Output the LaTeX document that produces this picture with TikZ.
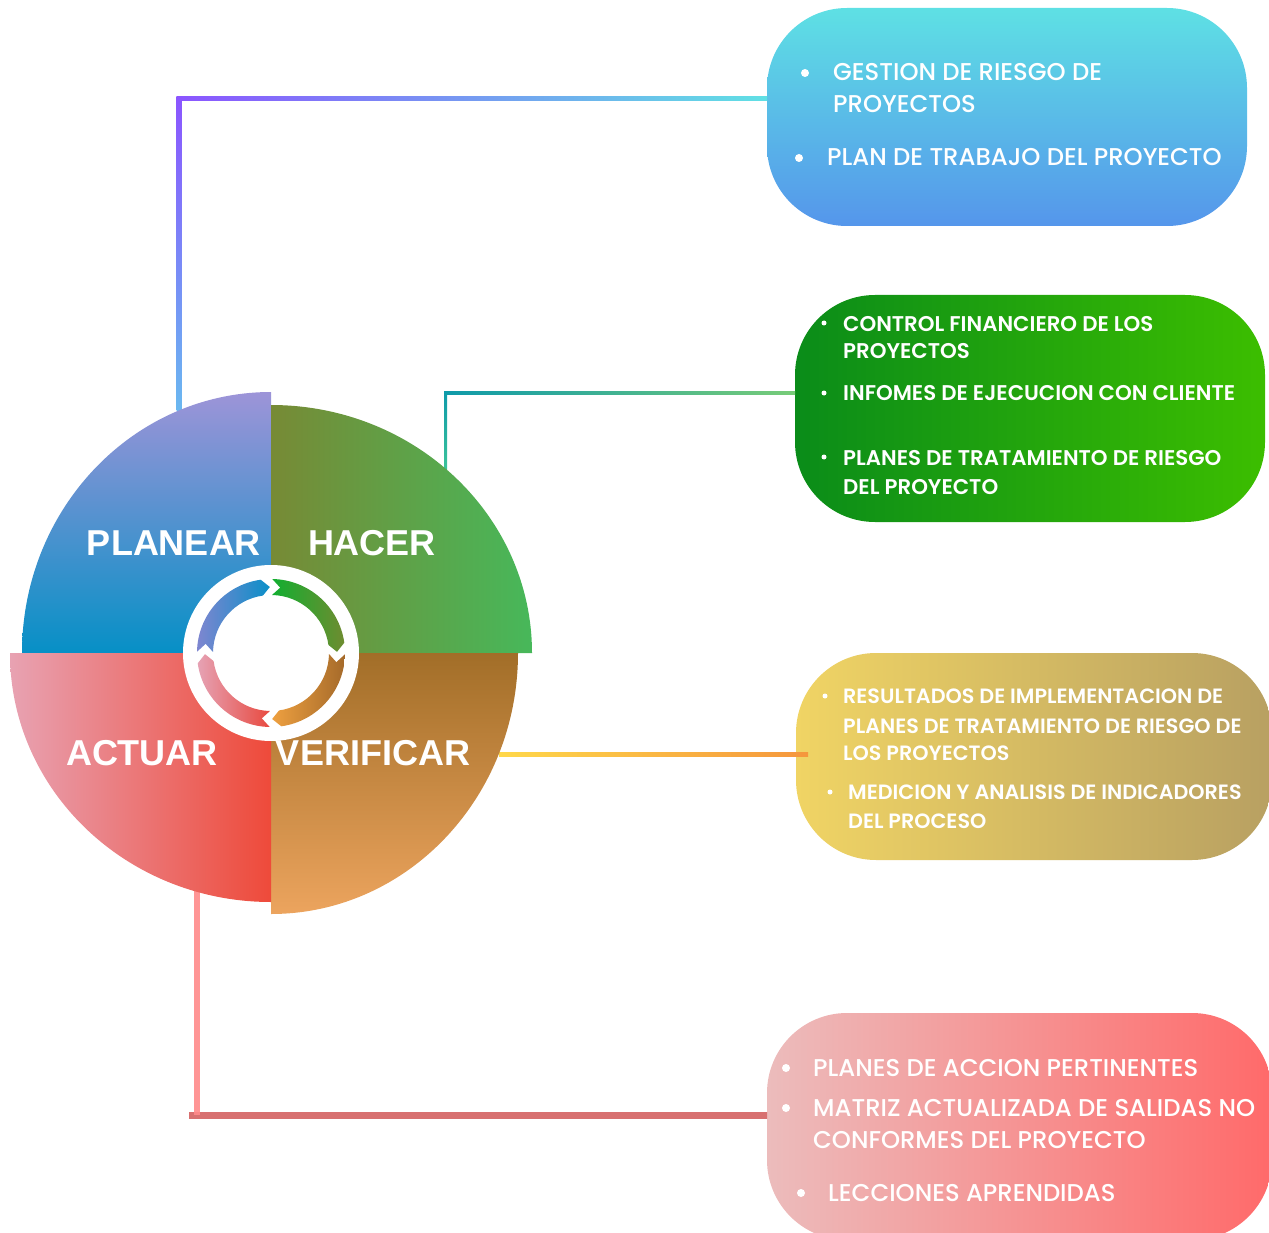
\documentclass[tikz,border=0pt]{standalone}
\usepackage{fontspec}
\usetikzlibrary{calc}
\newfontfamily\boxfontm{Poppins Medium}
\newfontfamily\boxfonts{Poppins SemiBold}
\newfontfamily\labfont{Liberation Sans}
\definecolor{bAtop}{HTML}{5EE0E4}
\definecolor{bAbot}{HTML}{5596EB}
\definecolor{bBl}{HTML}{0A8C19}
\definecolor{bBr}{HTML}{3CBE00}
\definecolor{bCl}{HTML}{F0D464}
\definecolor{bCr}{HTML}{B8A062}
\definecolor{bDl}{HTML}{ECBCBC}
\definecolor{bDr}{HTML}{FF6A6A}
\definecolor{qPtop}{HTML}{9D94D8}
\definecolor{qPmid}{HTML}{3A90D0}
\definecolor{qPbot}{HTML}{0690C6}
\definecolor{qHl}{HTML}{778A35}
\definecolor{qHm}{HTML}{6A9A38}
\definecolor{qHr}{HTML}{47B85A}
\definecolor{qVtop}{HTML}{A26E28}
\definecolor{qVbot}{HTML}{ECA45E}
\definecolor{qAl}{HTML}{E8A2B2}
\definecolor{qAm}{HTML}{EA7A80}
\definecolor{qAr}{HTML}{EE4A3A}
\definecolor{lnPur}{HTML}{8B55FF}
\definecolor{lnCy}{HTML}{60E0E4}
\definecolor{lnLb}{HTML}{6AB8F0}
\definecolor{lnTeal}{HTML}{0E9AAA}
\definecolor{lnTg}{HTML}{3CC49A}
\definecolor{lnLg}{HTML}{78CC78}
\definecolor{lnYel}{HTML}{FFD84A}
\definecolor{lnOr}{HTML}{F5963C}
\definecolor{lnRd}{HTML}{D87070}
\definecolor{lnPk}{HTML}{FF9494}
\definecolor{lnVr}{HTML}{FF8A8A}
\definecolor{rBa}{HTML}{7E86D0}
\definecolor{rBb}{HTML}{0A8FC8}
\definecolor{rGa}{HTML}{12AE30}
\definecolor{rGb}{HTML}{6E8C30}
\definecolor{rOa}{HTML}{EEA040}
\definecolor{rOb}{HTML}{A56A2A}
\definecolor{rPa}{HTML}{E6A2B4}
\definecolor{rPb}{HTML}{E84A40}
\newcommand{\ringseg}[3]{%
  \shade[#3] (#1+1:74) arc[start angle=#1+1, end angle=#2-8, radius=74]
    -- (#2-1:66) -- (#2-8:58) arc[start angle=#2-8, end angle=#1+1, radius=58]
    -- (#1+8:66) -- cycle;}
\begin{document}
\begin{tikzpicture}[x=1pt,y=-1pt,
  box/.style={rectangle, rounded corners=80pt, inner sep=0pt, outer sep=0pt},
  itemA/.style={anchor=base west, inner sep=0pt, text=white, font=\boxfontm\fontsize{24.3}{28}\selectfont},
  itemB/.style={anchor=base west, inner sep=0pt, text=white, font=\boxfonts\fontsize{21.3}{26}\selectfont},
  itemC/.style={anchor=base west, inner sep=0pt, text=white, font=\boxfonts\fontsize{20.7}{24}\selectfont},
  bulbig/.style={circle, fill=white, inner sep=0pt, minimum size=8pt},
  bulsmall/.style={circle, fill=white, inner sep=0pt, minimum size=5pt},
  lab/.style={inner sep=0pt, text=white, text height=26pt, text depth=0pt,
    font=\labfont\bfseries\fontsize{36}{36}\selectfont}]
\useasboundingbox (0,0) rectangle (1269,1233);

% boxes
\node[box, minimum width=480pt, minimum height=218pt, top color=bAtop, bottom color=bAbot] (b1) at (1007,117) {};
\node[box, minimum width=470pt, minimum height=227pt, left color=bBl, right color=bBr] (b2) at (1030,408.5) {};
\node[box, minimum width=476pt, minimum height=207pt, left color=bCl, right color=bCr] (b3) at (1034,756.5) {};
\node[box, minimum width=505pt, minimum height=227pt, left color=bDl, right color=bDr] (b4) at (1019.5,1126.5) {};

% connector anchor points
\coordinate (c1) at (179,410);
\coordinate (k1) at (179,99);
\coordinate (c2) at (445.5,470);
\coordinate (k2) at (445.5,392.5);
\coordinate (c3) at (499,754);
\coordinate (c4) at (197,890);
\coordinate (k4) at (197,1115);

% connectors
\shade[left color=lnPur, right color=lnCy] ($(k1)+(-2.5,-2)$) rectangle ($(b1.west|-k1)+(0,2)$);
\shade[top color=lnPur, bottom color=lnLb] ($(k1)+(-2.5,-2)$) rectangle ($(c1)+(2.5,0)$);
\shade[left color=lnTeal, right color=lnLg] ($(k2)+(-1.5,-1.5)$) rectangle ($(b2.west|-k2)+(0,1.5)$);
\shade[top color=lnTeal, bottom color=lnTg] ($(k2)+(-1.5,-1.5)$) rectangle ($(c2)+(1.5,0)$);
\shade[left color=lnYel, right color=lnOr] ($(c3)+(0,-2)$) rectangle ($(b3.west|-c3)+(12,2)$);
\shade[left color=lnRd, middle color=lnPk, right color=lnRd] ($(k4)+(-8,-3)$) rectangle ($(b4.west|-k4)+(0,3)$);
\fill[lnVr, opacity=0.9] ($(c4)+(-3,0)$) rectangle ($(k4)+(3,0)$);

% quadrants
\shade[top color=qPtop, middle color=qPmid, bottom color=qPbot]
  (271,653) -- (22,653) arc[start angle=180, end angle=270, x radius=249, y radius=261] -- cycle;
\shade[left color=qHl, middle color=qHm, right color=qHr]
  (271,653) -- (271,405) arc[start angle=270, end angle=360, x radius=261, y radius=248] -- cycle;
\shade[top color=qVtop, bottom color=qVbot]
  (271,653) -- (518,653) arc[start angle=0, end angle=90, x radius=247, y radius=261] -- cycle;
\shade[left color=qAl, middle color=qAm, right color=qAr]
  (271,653) -- (271,902) arc[start angle=90, end angle=180, x radius=261, y radius=249] -- cycle;

% center ring
\fill[white] (271,653) circle[radius=88];
\begin{scope}[shift={(271,653)}]
  \ringseg{180}{270}{left color=rBa, right color=rBb}
  \ringseg{270}{360}{left color=rGa, right color=rGb}
  \ringseg{0}{90}{left color=rOa, right color=rOb}
  \ringseg{90}{180}{left color=rPa, right color=rPb}
\end{scope}

% labels
\node[lab] (planear) at (174,542) {PLANEAR};
\node[lab] (hacer) at (372,542) {HACER};
\node[lab] (actuar) at (142,752) {ACTUAR};
\node[lab] (verificar) at (373,752) {VERIFICAR};

% box 1 text
\node[bulbig] (u11) at (805,73) {};
\node[itemA] (t11) at (833,81) {GESTION DE RIESGO DE};
\node[itemA] (t12) at (833,113) {PROYECTOS};
\node[bulbig] (u12) at (799,158) {};
\node[itemA] (t13) at (827,166) {PLAN DE TRABAJO DEL PROYECTO};

% box 2 text
\node[bulsmall] (u21) at (824,323) {};
\node[itemB] (t21) at (843,331) {CONTROL FINANCIERO DE LOS};
\node[itemB] (t22) at (843,359) {PROYECTOS};
\node[bulsmall] (u22) at (824,393) {};
\node[itemB] (t23) at (843,400) {INFOMES DE EJECUCION CON CLIENTE};
\node[bulsmall] (u23) at (824,457) {};
\node[itemB] (t24) at (843,465) {PLANES DE TRATAMIENTO DE RIESGO};
\node[itemB] (t25) at (843,494) {DEL PROYECTO};

% box 3 text
\node[bulsmall] (u31) at (825,696) {};
\node[itemC] (t31) at (843,703) {RESULTADOS DE IMPLEMENTACION DE};
\node[itemC] (t32) at (843,733) {PLANES DE TRATAMIENTO DE RIESGO DE};
\node[itemC] (t33) at (843,760) {LOS PROYECTOS};
\node[bulsmall] (u32) at (830,792) {};
\node[itemC] (t34) at (848,799) {MEDICION Y ANALISIS DE INDICADORES};
\node[itemC] (t35) at (848,828) {DEL PROCESO};

% box 4 text
\node[bulbig] (u41) at (786,1068) {};
\node[itemA] (t41) at (813,1076) {PLANES DE ACCION PERTINENTES};
\node[bulbig] (u42) at (786,1108) {};
\node[itemA] (t42) at (813,1116) {MATRIZ ACTUALIZADA DE SALIDAS NO};
\node[itemA] (t43) at (813,1148) {CONFORMES DEL PROYECTO};
\node[bulbig] (u43) at (801,1193) {};
\node[itemA] (t44) at (828,1201) {LECCIONES APRENDIDAS};
\end{tikzpicture}
\end{document}
